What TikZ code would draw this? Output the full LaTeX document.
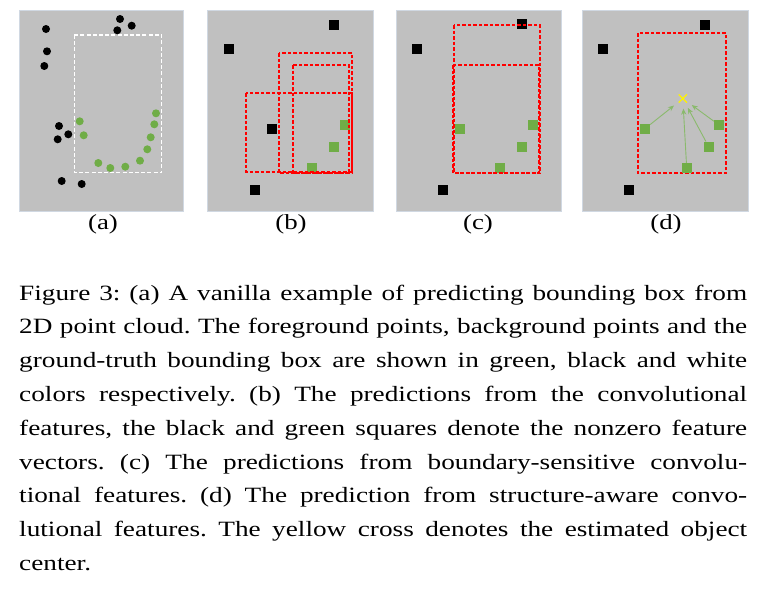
\documentclass[tikz,border=0pt]{standalone}
\usepackage{fontspec}
\setmainfont{Liberation Serif}[FakeStretch=1.25]
\usetikzlibrary{shapes.misc,arrows.meta}
\definecolor{panelgray}{RGB}{192,192,192}
\definecolor{paneledge}{RGB}{208,216,226}
\definecolor{fg}{RGB}{112,173,71}
\definecolor{arr}{RGB}{138,186,108}
\begin{document}
\begin{tikzpicture}[x=1pt,y=-1pt,
  panel/.style={draw=paneledge, fill=panelgray, line width=0.8pt},
  bpt/.style={circle, fill=black, inner sep=0pt, minimum size=8pt},
  gpt/.style={circle, fill=fg, inner sep=0pt, minimum size=8pt},
  bsq/.style={rectangle, fill=black, inner sep=0pt, minimum size=10pt},
  gsq/.style={rectangle, fill=fg, inner sep=0pt, minimum size=10pt},
  gtbox/.style={draw=white, dash pattern=on 4pt off 2.2pt, line width=1.2pt},
  predbox/.style={draw=red, dash pattern=on 3.5pt off 2pt, line width=1.8pt},
  sublabel/.style={anchor=base, inner sep=0pt, font=\fontsize{21.5}{24}\selectfont},
  vote/.style={draw=arr, line width=0.9pt, -{Stealth[length=6pt,width=5pt]}, shorten >=6pt}
]
\useasboundingbox (0,0) rectangle (761,589);

% panels
\draw[panel] (19,10) rectangle (183,211);
\draw[panel] (207,10.5) rectangle (373,211.5);
\draw[panel] (396,10.5) rectangle (561,211.5);
\draw[panel] (582,10.5) rectangle (748,211.5);

% ---------- (a)
\draw[gtbox] (74.3,35) rectangle (161.7,172.7);
\node[bpt] (a1) at (120,19) {};
\node[bpt] (a2) at (131.7,25.7) {};
\node[bpt] (a3) at (117.3,30.3) {};
\node[bpt] (a4) at (46,29) {};
\node[bpt] (a5) at (47,51.3) {};
\node[bpt] (a6) at (44.3,66) {};
\node[bpt] (a7) at (59,126) {};
\node[bpt] (a8) at (68.3,134.3) {};
\node[bpt] (a9) at (57.7,139.3) {};
\node[bpt] (a10) at (61.7,181) {};
\node[bpt] (a11) at (81.7,184) {};
\node[gpt] (ag1) at (79.7,121.3) {};
\node[gpt] (ag2) at (83.7,135.3) {};
\node[gpt] (ag3) at (98.3,163) {};
\node[gpt] (ag4) at (110.3,168) {};
\node[gpt] (ag5) at (125.3,166.7) {};
\node[gpt] (ag6) at (140,160.7) {};
\node[gpt] (ag7) at (147.3,149.3) {};
\node[gpt] (ag8) at (150.7,137.3) {};
\node[gpt] (ag9) at (154.3,124.3) {};
\node[gpt] (ag10) at (156,113.3) {};

% ---------- (b)
\node[bsq] (b1) at (334,25.3) {};
\node[bsq] (b2) at (228.7,48.7) {};
\node[bsq] (b3) at (272,129.3) {};
\node[bsq] (b4) at (255,189.7) {};
\node[gsq] (bg1) at (345,125) {};
\node[gsq] (bg2) at (334,146.7) {};
\node[gsq] (bg3) at (312.3,168) {};
\draw[predbox] (279,53) rectangle (352,173);
\draw[predbox] (293,65) rectangle (349,173);
\draw[predbox] (246,93) rectangle (352,172);

% ---------- (c)
\node[bsq] (c1) at (522,23.7) {};
\node[bsq] (c2) at (416.7,48.7) {};
\node[bsq] (c3) at (443.3,189.7) {};
\node[gsq] (cg1) at (459.7,129.3) {};
\node[gsq] (cg2) at (532.7,125) {};
\node[gsq] (cg3) at (522,146.7) {};
\node[gsq] (cg4) at (500.3,168) {};
\draw[predbox] (454,25) rectangle (540,173);
\draw[predbox] (453,65) rectangle (539,173);

% ---------- (d)
\node[bsq] (d1) at (705,25) {};
\node[bsq] (d2) at (603.3,48.7) {};
\node[bsq] (d3) at (629.3,190) {};
\draw[predbox] (638,33) rectangle (726,173);
\node[gsq] (dg1) at (645,128.7) {};
\node[gsq] (dg2) at (719,125) {};
\node[gsq] (dg3) at (708.7,146.7) {};
\node[gsq] (dg4) at (686.7,168) {};
\node[cross out, draw=yellow, line width=1.2pt, inner sep=0pt, minimum size=7pt] (ctr) at (682.8,98.5) {};
\draw[vote] (dg1) -- (ctr);
\draw[vote] (dg4) -- (ctr);
\draw[vote] (dg3) -- (ctr);
\draw[vote] (dg2) -- (ctr);

% sub-labels
\node[sublabel] (la) at (103,229) {(a)};
\node[sublabel] (lb) at (291,229) {(b)};
\node[sublabel] (lc) at (478,229) {(c)};
\node[sublabel] (ld) at (666,229) {(d)};

% caption
\node[anchor=base west, inner sep=0pt, text width=728pt, align=justify,
      font=\fontsize{21.8}{33.8}\selectfont] (cap) at (19,300) {%
\hyphenpenalty=10000\emergencystretch=20pt\frenchspacing
Figure 3: (a) A vanilla example of predicting bounding box from\linebreak
2D point cloud. The foreground points, background points and the\linebreak
ground-truth bounding box are shown in green, black and white\linebreak
colors respectively. (b) The predictions from the convolutional\linebreak
features, the black and green squares denote the nonzero feature\linebreak
vectors. (c) The predictions from boundary-sensitive convolu-\linebreak
tional features. (d) The prediction from structure-aware convo-\linebreak
lutional features. The yellow cross denotes the estimated object\linebreak
center.};
\end{tikzpicture}
\end{document}
